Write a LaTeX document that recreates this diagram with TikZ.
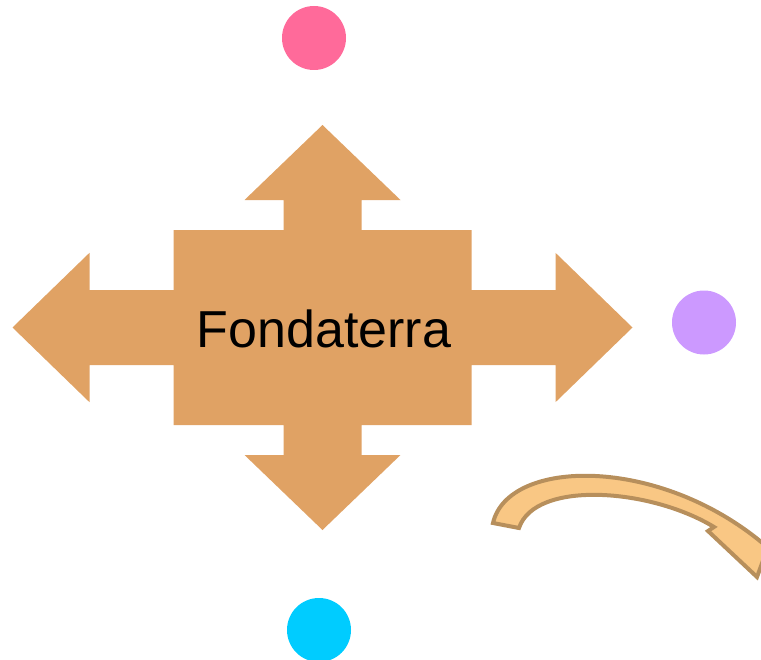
\documentclass[tikz,border=0pt]{standalone}
\usepackage{fontspec}
\setmainfont{Liberation Sans}
\definecolor{crossfill}{HTML}{E0A264}
\definecolor{bendfill}{HTML}{F9C784}
\definecolor{benddraw}{HTML}{B78F5C}
\definecolor{pinkdot}{HTML}{FF6A9A}
\definecolor{lilacdot}{HTML}{CC99FF}
\definecolor{cyandot}{HTML}{00CCFF}
\tikzset{
    blob/.style={circle,inner sep=0pt,minimum size=48pt},
    bendarrow/.style={fill=bendfill,draw=benddraw,line width=3pt,line join=miter}
}
\begin{document}
\begin{tikzpicture}[x=0.75pt,y=-0.75pt]
    \useasboundingbox (0,0) rectangle (761,660);
    \clip (0,0) rectangle (761,660);
    %draw four way arrow
    \fill[crossfill] (12.5,327.5) -- (89.5,252.8) -- (89.5,290) -- (173.5,290)
        -- (173.5,230) -- (283.5,230) -- (283.5,200) -- (244.5,200) -- (322.5,125)
        -- (400.5,200) -- (361.5,200) -- (361.5,230) -- (471.5,230) -- (471.5,290)
        -- (555.5,290) -- (555.5,252.8) -- (632.5,327.5) -- (555.5,402.2)
        -- (555.5,365) -- (471.5,365) -- (471.5,425) -- (361.5,425) -- (361.5,455)
        -- (400.5,455) -- (322.5,530) -- (244.5,455) -- (283.5,455) -- (283.5,425)
        -- (173.5,425) -- (173.5,365) -- (89.5,365) -- (89.5,402.2) -- cycle;
    \node (fonda) [anchor=base] at (324,347.5) {\fontsize{39}{46}\selectfont Fondaterra};
    %draw dots
    \node (top) [blob,fill=pinkdot] at (314,38) {};
    \node (right) [blob,fill=lilacdot] at (704,322.5) {};
    \node (bottom) [blob,fill=cyandot] at (319,630) {};
    %draw bent arrow
    \draw [bendarrow] (493,523) .. controls (508,458) and (660,455) .. (766,546)
        -- (772,536) -- (757,577) -- (708,531) -- (714,527)
        .. controls (650,488) and (535,480) .. (519,528) -- cycle;
\end{tikzpicture}
\end{document}
